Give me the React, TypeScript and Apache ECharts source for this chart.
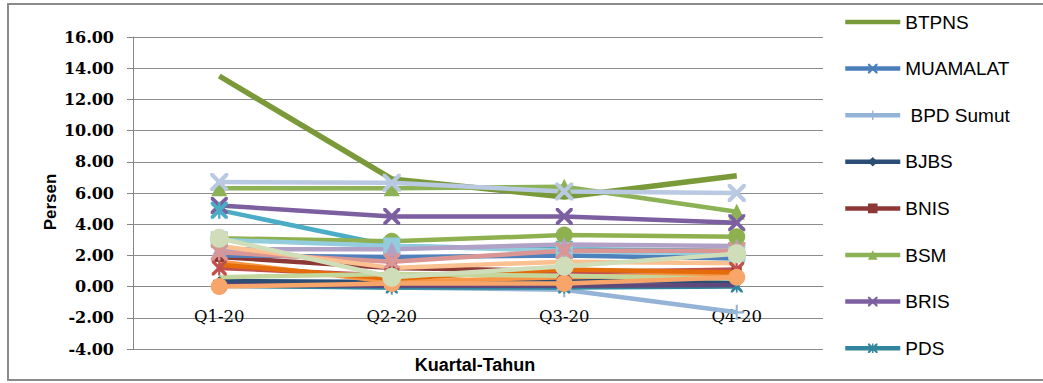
import React, { useEffect, useRef } from "react";
import * as echarts from "echarts";

// Quarters on the category axis
const categories = ["Q1-20", "Q2-20", "Q3-20", "Q4-20"];

// Value axis range and step (percent)
const yMin = -4;
const yMax = 16;
const yStep = 2;

// Banks shown in the legend
const btpns = [13.5, 6.9, 5.75, 7.1];
const muamalat = [0.05, 0.05, 0.05, 0.05];
const bpdSumut = [0.1, -0.05, -0.2, -1.65];
const bjbs = [0.35, 0.3, 0.4, 0.35];
const bnis = [1.9, 1.2, 1.0, 1.0];
const bsm = [6.3, 6.3, 6.4, 4.8];
const bris = [5.2, 4.5, 4.5, 4.1];
const pds = [0.05, -0.05, -0.05, 0.0];

// Further banks drawn without a legend entry
const seri9 = [6.7, 6.65, 6.1, 6.0];
const seri10 = [4.9, 2.6, 2.4, 2.3];
const seri11 = [3.1, 2.9, 3.3, 3.2];
const seri12 = [3.0, 2.6, 2.3, 2.1];
const seri13 = [2.4, 2.4, 2.7, 2.6];
const seri14 = [2.0, 1.9, 2.0, 1.8];
const seri15 = [2.2, 1.6, 2.3, 2.3];
const seri16 = [1.6, 0.3, 0.6, 0.8];
const seri17 = [1.2, 0.7, 0.9, 1.1];
const seri18 = [1.4, 0.5, 1.1, 0.9];
const seri19 = [2.6, 1.2, 1.6, 1.5];
const seri20 = [0.6, 0.8, 0.7, 0.5];
const seri21 = [0.1, 0.05, 0.05, 0.1];
const seri22 = [0.0, 0.2, 0.2, 0.6];
const seri23 = [3.1, 0.6, 1.3, 2.1];

const legendNames = ["BTPNS", "MUAMALAT", " BPD Sumut", "BJBS", "BNIS", "BSM", "BRIS", "PDS"];

// Stroke-style markers as filled outlines
const X_MARK = "path://M0,0 L1.6,0 L10,8.4 L10,10 L8.4,10 L0,1.6 Z M8.4,0 L10,0 L10,1.6 L1.6,10 L0,10 L0,8.4 Z";
const PLUS_MARK = "path://M4.3,0 L5.7,0 L5.7,10 L4.3,10 Z M0,4.3 L10,4.3 L10,5.7 L0,5.7 Z";
const STAR_MARK =
  "path://M0,0 L1.6,0 L10,8.4 L10,10 L8.4,10 L0,1.6 Z M8.4,0 L10,0 L10,1.6 L1.6,10 L0,10 L0,8.4 Z M4.3,0 L5.7,0 L5.7,10 L4.3,10 Z";

type Def = { name: string; color: string; symbol: string; size: number; width?: number; data: number[] };

const defs: Def[] = [
  { name: "BTPNS", color: "#7A9A3A", symbol: "none", size: 0, width: 5.5, data: btpns },
  { name: "MUAMALAT", color: "#4A7EBB", symbol: X_MARK, size: 10, data: muamalat },
  { name: " BPD Sumut", color: "#95B3D7", symbol: PLUS_MARK, size: 15, data: bpdSumut },
  { name: "BJBS", color: "#2C4D75", symbol: "diamond", size: 10, data: bjbs },
  { name: "BNIS", color: "#8C3836", symbol: "rect", size: 10, data: bnis },
  { name: "BSM", color: "#8DB255", symbol: "triangle", size: 16, data: bsm },
  { name: "BRIS", color: "#7B5FA0", symbol: X_MARK, size: 17, data: bris },
  { name: "PDS", color: "#31859C", symbol: STAR_MARK, size: 12, data: pds },
  { name: "Seri 9", color: "#B9C9E2", symbol: X_MARK, size: 18, data: seri9 },
  { name: "Seri 10", color: "#4BACC6", symbol: STAR_MARK, size: 17, data: seri10 },
  { name: "Seri 11", color: "#8FB04E", symbol: "circle", size: 17, data: seri11 },
  { name: "Seri 12", color: "#93CDDD", symbol: "rect", size: 17, data: seri12 },
  { name: "Seri 13", color: "#B2A1C7", symbol: "triangle", size: 15, data: seri13 },
  { name: "Seri 14", color: "#4F81BD", symbol: "none", size: 0, data: seri14 },
  { name: "Seri 15", color: "#D99694", symbol: STAR_MARK, size: 17, data: seri15 },
  { name: "Seri 16", color: "#F79646", symbol: "none", size: 0, data: seri16 },
  { name: "Seri 17", color: "#C0504D", symbol: STAR_MARK, size: 15, data: seri17 },
  { name: "Seri 18", color: "#E46C0A", symbol: "none", size: 0, data: seri18 },
  { name: "Seri 19", color: "#FAC090", symbol: "none", size: 0, data: seri19 },
  { name: "Seri 20", color: "#C3D69B", symbol: "none", size: 0, data: seri20 },
  { name: "Seri 21", color: "#5F497A", symbol: "none", size: 0, data: seri21 },
  { name: "Seri 22", color: "#F8A56A", symbol: "circle", size: 17, data: seri22 },
  { name: "Seri 23", color: "#CFDDB8", symbol: "circle", size: 19, data: seri23 },
];

const SERIF = "'DejaVu Serif', serif";
const SANS = "'Liberation Sans', Arial, sans-serif";

// Plot box
const GRID_TOP = 37;
const GRID_BOTTOM = 34;
const CHART_H = 383;
const plotH = CHART_H - GRID_TOP - GRID_BOTTOM;
// Category axis sits on the zero line, not the bottom of the plot
const zeroOffset = -((0 - yMin) / (yMax - yMin)) * plotH;

export default function App() {
  const ref = useRef<HTMLDivElement>(null);

  useEffect(() => {
    if (!ref.current) return;
    const chart = echarts.init(ref.current, null, { renderer: "svg" });
    chart.setOption({
      animation: false,
      backgroundColor: "#ffffff",
      grid: { left: 133, right: 220, top: GRID_TOP, bottom: GRID_BOTTOM, containLabel: false },
      legend: {
        data: legendNames.map((n) =>
          n === "BTPNS" ? { name: n, itemStyle: { opacity: 0 } } : { name: n }
        ),
        orient: "vertical",
        left: 838,
        top: 7,
        itemWidth: 55,
        itemHeight: 12,
        itemGap: 26.6,
        lineStyle: { width: 4.5 },
        textStyle: { fontFamily: SANS, fontSize: 19, color: "#000", lineHeight: 20 },
      },
      xAxis: {
        type: "category",
        data: categories,
        boundaryGap: true,
        offset: zeroOffset,
        axisLine: { onZero: false, lineStyle: { color: "#868686", width: 1 } },
        axisTick: { show: false },
        axisLabel: { fontFamily: SERIF, fontSize: 16.5, color: "#000", margin: 21 },
        splitLine: { show: false },
      },
      yAxis: {
        type: "value",
        min: yMin,
        max: yMax,
        interval: yStep,
        axisLine: { show: true, lineStyle: { color: "#868686", width: 1 } },
        axisTick: { show: true, length: 6, lineStyle: { color: "#868686" } },
        axisLabel: {
          fontFamily: SERIF,
          fontSize: 16,
          fontWeight: "bold",
          color: "#000",
          margin: 19,
          formatter: (v: number) => v.toFixed(2),
        },
        splitLine: { show: true, lineStyle: { color: "#8c8c8c", width: 1 } },
      },
      graphic: [
        {
          type: "rect",
          shape: { x: 8, y: 4, width: 1045, height: 376 },
          style: { fill: "none", stroke: "#8a8a8a", lineWidth: 2 },
          silent: true,
        },
        {
          type: "text",
          x: 50,
          y: 202,
          rotation: Math.PI / 2,
          style: {
            text: "Persen",
            font: `bold 17px ${SANS}`,
            fill: "#000",
            align: "center",
            verticalAlign: "middle",
          },
        },
        {
          type: "text",
          x: 475,
          y: 365,
          style: {
            text: "Kuartal-Tahun",
            font: `bold 18px ${SANS}`,
            fill: "#000",
            align: "center",
            verticalAlign: "middle",
          },
        },
      ],
      series: defs.map((d) => ({
        name: d.name,
        type: "line",
        data: d.data,
        symbol: d.symbol,
        symbolSize: d.size,
        showSymbol: d.symbol !== "none",
        lineStyle: { color: d.color, width: d.width ?? 4.5 },
        itemStyle: { color: d.color, borderWidth: 0 },
        emphasis: { disabled: true },
      })),
    });
    return () => chart.dispose();
  }, []);

  return (
    <div
      ref={ref}
      style={{ position: "fixed", left: 0, top: 0, width: 1043, height: 383, background: "#fff" }}
    />
  );
}
